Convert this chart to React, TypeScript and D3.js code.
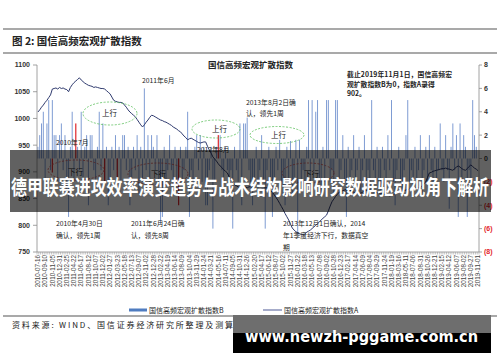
import React from "react";
import * as d3 from "d3";

// ---------- data ----------
const xLabels = [
  "2010-07-16","2010-09-10","2010-11-05","2010-12-31","2011-02-25","2011-04-22","2011-06-17","2011-08-12",
  "2011-10-07","2011-12-02","2012-01-27","2012-03-23","2012-05-18","2012-07-13","2012-09-07","2012-11-02",
  "2012-12-28","2013-02-22","2013-04-19","2013-06-14","2013-08-09","2013-10-04","2013-11-29","2014-01-24",
  "2014-03-21","2014-05-16","2014-07-11","2014-09-05","2014-10-31","2014-12-26","2015-02-20","2015-04-17",
  "2015-06-12","2015-08-07","2015-10-02","2015-11-27","2016-01-22","2016-03-18","2016-05-13","2016-07-08",
  "2016-09-02","2016-10-28","2016-12-23","2017-02-17","2017-04-14","2017-06-09","2017-08-04","2017-09-29",
  "2017-11-24","2018-01-19","2018-03-16","2018-05-11","2018-07-06","2018-08-31","2018-10-26","2018-12-21",
  "2019-02-15","2019-04-12","2019-06-07","2019-08-02","2019-09-27","2019-11-01"
];
const LABEL_STEP = 4;

// 国信高频宏观扩散指数A (left axis)
const indexA = [
  1012,1016,1021,1025,1030,1034,1039,1044,1055,1056,
  1057,1055,1058,1056,1057,1055,1054,1050,1058,1063,
  1067,1070,1073,1076,1072,1069,1066,1064,1062,1061,
  1060,1058,1059,1058,1057,1056,1056,1055,1052,1049,
  1046,1040,1034,1032,1031,1030,1030,1029,1025,1021,
  1016,1012,1009,1006,1003,998,993,988,984,988,
  993,997,1002,1006,1005,1003,1001,999,997,996,
  994,993,991,989,987,984,982,980,977,975,
  971,967,964,960,962,963,961,959,957,955,
  954,955,956,956,948,941,935,928,924,920,
  915,911,908,904,901,898,891,885,879,876,
  874,872,870,871,873,872,870,872,872,870,
  868,867,866,866,868,869,870,870,867,864,
  862,857,852,847,841,835,829,822,816,810,
  802,795,791,788,786,784,783,782,784,787,
  789,791,794,797,800,803,806,810,813,816,
  819,827,836,844,849,854,858,862,863,865,
  866,867,866,866,864,862,861,860,859,860,
  862,864,865,866,866,865,863,862,861,860,
  860,859,858,857,856,855,856,857,859,860,
  861,862,863,865,866,867,868,869,869,870,
  870,870,870,874,878,881,890,898,899,901,
  902,903,904,905,906,906,907,906,905,904,
  903,906,909,911,909,906,904,903,906,910,
  913,910,907,905,902
];

// 国信高频宏观扩散指数B (right axis)
const indexB = [
  1,2,3,4,-2,3,5,-1,5,2,
  2,-2,2,3,-1,2,-3,-5,1,4,
  -2,0,1,-1,4,-2,1,2,-4,2,
  2,-1,-2,1,4,-1,3,-2,1,-4,
  -2,1,-1,2,-1,1,-2,2,2,-1,
  1,-4,-2,1,-1,2,-3,1,-2,6,
  -1,2,-2,2,1,-1,2,-2,-5.6,-5,
  1,-2,-1,2,-1,-2,1,-3,-1,1,
  -2,-1,1,4,-5,-1,-2,1,2,-1,
  2,-2,1,-4,-4,-1,1,-6,-2,1,
  0,2,-1,-2,1,-1,-2,-1,-6,1,
  -1,-2,3,-4,3,3,3.5,-1,-2,-4,
  -2,1,-3,-1,2,-2,-6,-1,1,-2,
  -5,-2,1,-1,1.6,-2,-3,-4,1,-2,
  1.5,-3,-2,1.6,-6.5,1.6,-2,-1,-3,1,
  5,-2,5,-1,4,5,-2,-3,1,-2,
  5,5,-2,-1,-3,5,5,-2,-1,2,
  -2,-5,1,-3,-1,2,-2,-1,1,-3,
  -1,2,-2,-1,-3,5,-1,-2,1,-2,
  -3,1,-1,-2,2,-1,5,-2,-4,-1,
  1,-2,-3,-1,2,5,-2,-1,-3,1,
  -2,-1,2,-3,-1,1,-2,2,-1,-2,
  1,-2,-1,3,-1,-2,2,-1,-4.3,1,
  3,-1,2,-5,3,-2,2,1,-5,-1,
  -2,5,2,1,0
];

// highlighted (red) signal bars
const signalIdx = [8, 21, 37, 44, 78, 100];
const signalVal = [-1.2, 3, -2, -2, -4, 2];

const leftTicks = [750, 800, 850, 900, 950, 1000, 1050, 1100];
const rightTicks = [-8, -6, -4, -2, 0, 2, 4, 6, 8];

const FONT = "'Liberation Sans', Arial, 'Noto Sans CJK SC', sans-serif";
const CJK = "'Noto Sans CJK SC', 'Liberation Sans', sans-serif";

export default function App() {
  const W = 500, H = 362;
  const left = 37, right = 479, top = 65, bottom = 252;
  const N = indexB.length;
  const x = d3.scaleBand<number>().domain(d3.range(N)).range([left, right]).padding(0);
  const cx = (i: number) => (x(i) as number) + x.bandwidth() / 2;
  const yL = d3.scaleLinear().domain([750, 1100]).range([bottom, top]);
  const yR = d3.scaleLinear().domain([-8, 8]).range([bottom, top]);
  const linePath = d3.line<number>().x((_, i) => cx(i)).y((d) => yL(d))(indexA) || "";
  const bw = 1.0;
  const fmtR = (v: number) => (v < 0 ? `(${-v})` : `${v}`);

  const anno = (t: string, ax: number, ay: number, extra: any = {}) => (
    <text x={ax} y={ay} fontFamily={CJK} fontSize={6.8} fill="#222" {...extra}>{t}</text>
  );

  return (
    <svg width={W} height={H} style={{ position: "absolute", left: 0, top: 0, background: "#fff" }}>
      <rect width={W} height={H} fill="#fff" />
      {/* header */}
      <line x1={3} x2={497} y1={29} y2={29} stroke="#8c8c8c" strokeWidth={1.5} />
      <text x={12} y={45} fontFamily={CJK} fontSize={10.5} fontWeight="bold" fill="#222">图 2:  国信高频宏观扩散指数</text>
      <line x1={3} x2={497} y1={53} y2={53} stroke="#8c8c8c" strokeWidth={1.5} />

      <text x={208} y={67.5} fontFamily={CJK} fontSize={8.5} fontWeight="bold" fill="#222" textLength={85}>国信高频宏观扩散指数</text>

      {/* bars B */}
      {indexB.map((v, i) => (
        <rect key={"b" + i} x={(x(i) as number) + (x.bandwidth() - bw) / 2} y={Math.min(yR(v), yR(0))}
          width={bw} height={Math.abs(yR(v) - yR(0))} fill="#7f9cd3" />
      ))}
      {signalIdx.map((idx, k) => (
        <rect key={"s" + k} x={(x(idx) as number) + (x.bandwidth() - 1.2) / 2} y={Math.min(yR(signalVal[k]), yR(0))}
          width={1.2} height={Math.abs(yR(signalVal[k]) - yR(0))} fill="#e0262b" />
      ))}

      {/* line A */}
      <path d={linePath} fill="none" stroke="#2f3a6e" strokeWidth={1} />

      {/* axes */}
      <line x1={left} x2={left} y1={top} y2={bottom} stroke="#8a8a8a" strokeWidth={0.8} />
      <line x1={right} x2={right} y1={top} y2={bottom} stroke="#8a8a8a" strokeWidth={0.8} />
      <line x1={left} x2={right} y1={bottom} y2={bottom} stroke="#8a8a8a" strokeWidth={0.8} />
      {leftTicks.map((t) => (
        <g key={"l" + t}>
          <line x1={left - 4} x2={left} y1={yL(t)} y2={yL(t)} stroke="#8a8a8a" strokeWidth={0.8} />
          <text x={30} y={yL(t)} dy="0.35em" textAnchor="end" fontFamily={FONT} fontSize={7} fontWeight="bold" fill="#333">{t}</text>
        </g>
      ))}
      {rightTicks.map((t) => (
        <g key={"r" + t}>
          <line x1={right} x2={right + 3} y1={yR(t)} y2={yR(t)} stroke="#8a8a8a" strokeWidth={0.8} />
          <text x={484} y={yR(t)} dy="0.35em" fontFamily={FONT} fontSize={7} fontWeight="bold" fill={t < 0 ? "#e3262b" : "#333"}>{fmtR(t)}</text>
        </g>
      ))}
      {d3.range(N + 1).map((i) => {
        const xx = left + i * x.step();
        return <line key={"t" + i} x1={xx} x2={xx} y1={bottom} y2={bottom + 2.5} stroke="#9a9a9a" strokeWidth={0.6} />;
      })}
      {xLabels.map((lab, k) => {
        const i = k * LABEL_STEP;
        if (i >= N) return null;
        return (
          <text key={"x" + k} transform={`translate(${cx(i)},${bottom + 3}) rotate(-90)`} dy="0.35em" textAnchor="end"
            fontFamily={FONT} fontSize={6.3} fill="#444">{lab}</text>
        );
      })}

      {/* ellipses 上行 (green) */}
      <ellipse cx={110} cy={113.5} rx={27} ry={11.5} fill="none" stroke="#5cbf5c" strokeWidth={0.8} strokeDasharray="2,1.5" />
      <ellipse cx={216} cy={129} rx={24} ry={9} fill="none" stroke="#5cbf5c" strokeWidth={0.8} strokeDasharray="2,1.5" />
      <ellipse cx={277} cy={135} rx={27} ry={8.5} fill="none" stroke="#5cbf5c" strokeWidth={0.8} strokeDasharray="2,1.5" />
      {anno("上行", 102, 116, { fontSize: 7.5 })}
      {anno("上行", 212, 132, { fontSize: 7.5 })}
      {anno("上行", 271, 137.5, { fontSize: 7.5 })}
      {/* ellipses 下行 (red) */}
      <ellipse cx={76} cy={170} rx={28} ry={10} fill="none" stroke="#d9534f" strokeWidth={0.8} strokeDasharray="2,1.5" />
      <ellipse cx={158} cy={174} rx={30} ry={11} fill="none" stroke="#d9534f" strokeWidth={0.8} strokeDasharray="2,1.5" />
      <ellipse cx={308} cy={173} rx={26} ry={10} fill="none" stroke="#d9534f" strokeWidth={0.8} strokeDasharray="2,1.5" />
      {anno("下行", 68, 175, { fontSize: 7.5 })}
      {anno("下行", 151, 177, { fontSize: 7.5 })}
      {anno("下行", 304, 176.5, { fontSize: 7.5 })}

      {/* annotations */}
      {anno("2011年6月", 142, 83)}
      {anno("2013年8月2日确", 246, 104.5)}
      {anno("认，领先1周", 246, 115.5)}
      {anno("截止2019年11月1日，国信高频宏", 347, 77, { fontWeight: "bold", textLength: 105 })}
      {anno("观扩散指数B为0，指数A录得", 347, 86.5, { fontWeight: "bold" })}
      {anno("902。", 347, 95.5, { fontWeight: "bold" })}
      {anno("2010年7月", 56, 145)}
      {anno("2012年8月", 197, 152)}
      {anno("2010年4月30日", 56, 226)}
      {anno("确认，领先1周", 56, 238)}
      {anno("2011年6月24日确", 131, 226)}
      {anno("认，领先8周", 131, 238)}
      {anno("2013年12月1日确认，2014", 283, 226)}
      {anno("年1季度经济下行，数据真空", 283, 238)}
      {anno("期", 283, 249.5)}

      {/* legend */}
      <rect x={129} y={308.5} width={18} height={3} fill="#4f7cc0" />
      <text x={149} y={313} fontFamily={CJK} fontSize={7} fill="#222">国信高频宏观扩散指数B</text>
      <line x1={263} x2={282} y1={310} y2={310} stroke="#8891b8" strokeWidth={1.5} />
      <text x={284} y={313} fontFamily={CJK} fontSize={7} fill="#222">国信高频宏观扩散指数A</text>

      {/* footer */}
      <line x1={3} x2={497} y1={316} y2={316} stroke="#8c8c8c" strokeWidth={1.5} />
      <text x={12} y={328} fontFamily={CJK} fontSize={8} fill="#222" textLength={221}>资料来源: WIND、国信证券经济研究所整理及测算</text>

      {/* overlay banner */}
      <rect x={10} y={150} width={481} height={62} fill="rgba(0,0,0,0.62)" />
      <text x={11} y={195} fontFamily={CJK} fontSize={20} fontWeight="bold" fill="#fff" textLength={478} lengthAdjust="spacingAndGlyphs">德甲联赛进攻效率演变趋势与战术结构影响研究数据驱动视角下解析</text>

      {/* watermark */}
      <rect x={233} y={315} width={258} height={18} fill="#6e6e6e" />
      <rect x={233} y={333} width={258} height={20} fill="#000" />
      <text x={245} y={342} fontFamily="'DejaVu Sans', sans-serif" fontSize={15} fontWeight="bold" fill="#fff" textLength={233} lengthAdjust="spacingAndGlyphs">www.newzh-pggame.com.cn</text>
    </svg>
  );
}
